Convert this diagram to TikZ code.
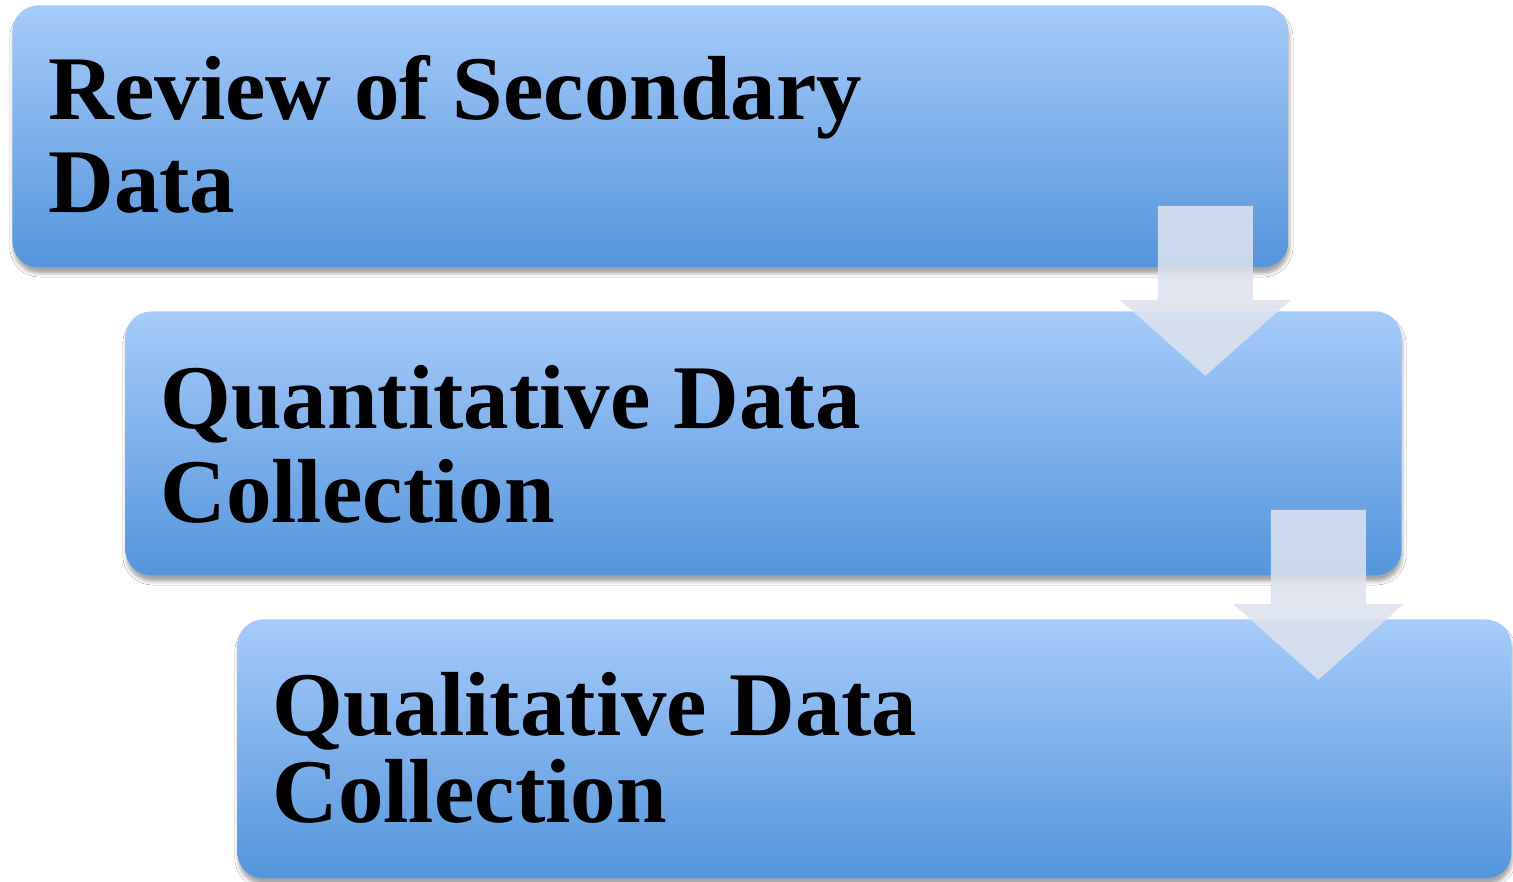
\documentclass[tikz,border=0pt]{standalone}
\usepackage{fontspec}
\setmainfont{Liberation Serif}
\usetikzlibrary{calc,shadows.blur}
\definecolor{boxtop}{RGB}{167,203,250}
\definecolor{boxbottom}{RGB}{84,149,219}
\definecolor{arrowfill}{RGB}{220,226,238}
\begin{document}
\begin{tikzpicture}[x=0.5pt,y=-0.5pt,
  stage/.style={rectangle, rounded corners=13pt, anchor=north west, inner sep=0pt,
    top color=boxtop, bottom color=boxbottom, draw=none,
    blur shadow={shadow xshift=0.5pt, shadow yshift=-3pt, shadow blur radius=1.8pt, shadow opacity=35}},
  steptext/.style={anchor=base west, inner sep=0pt, font=\fontsize{45.5}{46}\selectfont\bfseries},
  flowarrow/.pic={\fill[arrowfill, opacity=0.88]
    (-47.5,0) -- (47.5,0) -- (47.5,94) -- (85.5,94) -- (0,170) -- (-85.5,94) -- (-47.5,94) -- cycle;}
]
% canvas
\fill[white] (0,0) rectangle (1513,882);
\useasboundingbox (0,0) rectangle (1513,882);

% the three stages
\node[stage, minimum width=638pt, minimum height=131pt] (b1) at (12,5) {};
\node[stage, minimum width=638pt, minimum height=132pt] (b2) at (125,311) {};
\node[stage, minimum width=637pt, minimum height=129.5pt] (b3) at (237,619) {};

% stage titles
\node[steptext] (t1a) at ($(b1.north west)+(36,115)$) {Review of Secondary};
\node[steptext] (t1b) at ($(b1.north west)+(36,208)$) {Data};
\node[steptext] (t2a) at ($(b2.north west)+(35,117)$) {Quantitative Data};
\node[steptext] (t2b) at ($(b2.north west)+(35,211)$) {Collection};
\node[steptext] (t3a) at ($(b3.north west)+(35,116)$) {Qualitative Data};
\node[steptext] (t3b) at ($(b3.north west)+(35,203)$) {Collection};

% block arrows between stages
\coordinate (a1) at ($(b1.south east)+(-83.5,-62)$);
\coordinate (a2) at ($(b2.south east)+(-83.5,-66)$);
\pic at (a1) {flowarrow};
\pic at (a2) {flowarrow};
\end{tikzpicture}
\end{document}
